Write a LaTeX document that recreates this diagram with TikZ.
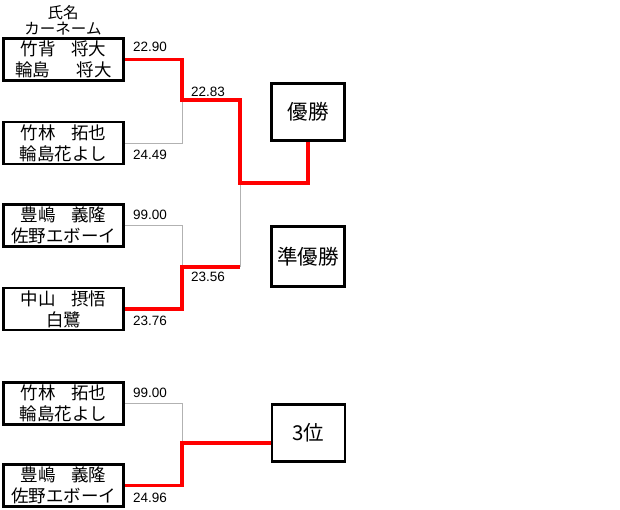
\documentclass[tikz,border=0pt]{standalone}
\usepackage{fontspec}
\setmainfont{Noto Sans CJK JP}
\newfontfamily\numfont{Liberation Sans}
\usepackage{tikz}
\usetikzlibrary{calc}
\tikzset{
  namebox/.style={draw, line width=2.8pt, minimum width=120pt, minimum height=42pt,
    inner sep=0pt, align=center, font=\fontsize{17.5}{21}\selectfont},
  prizebox/.style={draw, line width=2.8pt, minimum width=73pt,
    inner sep=0pt, align=center, font=\fontsize{20.5}{24}\selectfont},
  winline/.style={red, line width=3.2pt},
  loseline/.style={black!30, line width=0.9pt},
  score/.style={anchor=west, inner sep=0pt, font=\numfont\fontsize{13.5}{15}\selectfont}
}

\begin{document}
\begin{tikzpicture}[x=1pt, y=-1pt]
\useasboundingbox (0,0) rectangle (620,509);
\node[font=\fontsize{15.5}{17}\selectfont, align=center] (head) at (63,20) {氏名\\[-1pt]カーネーム};
\node[namebox] (p1) at (63.5,59.5) {竹背\hspace{0.9em}将大\\輪島\hspace{1.5em}将大};
\node[namebox] (p2) at (63.5,143) {竹林\hspace{0.9em}拓也\\輪島花よし};
\node[namebox] (p3) at (63.5,225.5) {豊嶋\hspace{0.9em}義隆\\佐野エボーイ};
\node[namebox] (p4) at (63.5,309) {中山\hspace{0.9em}摂悟\\白鷺};
\node[namebox] (p5) at (63.5,403.5) {竹林\hspace{0.9em}拓也\\輪島花よし};
\node[namebox] (p6) at (63.5,485.5) {豊嶋\hspace{0.9em}義隆\\佐野エボーイ};
\node[prizebox, minimum height=57pt] (champ) at (308,112) {優勝};
\node[prizebox, minimum height=60pt] (second) at (308,256.5) {準優勝};
\node[prizebox, minimum height=57pt] (third) at (308.5,433) {3位};
\coordinate (j1) at (182,100);
\coordinate (j2) at (182,267);
\coordinate (j3) at (182,443);
\coordinate (f) at (240,183);
% losers first, winners on top
\draw[loseline] (p2.east) -| (j1);
\draw[loseline] (p3.east) -| (j2);
\draw[loseline] (f |- j2) -- (f);
\draw[loseline] (p5.east) -| (j3);
\draw[winline] (p1.east) -| (j1) -- (f |- j1) -- (f) -| (champ.south);
\draw[winline] (p4.east) -| (j2) -- (f |- j2);
\draw[winline] (p6.east) -| (j3) -- (j3 -| third.west);
% times
\node[score] (s1) at (133,47) {22.90};
\node[score] (s2) at (133,155) {24.49};
\node[score] (s3) at (191,92) {22.83};
\node[score] (s4) at (133,215) {99.00};
\node[score] (s5) at (191,277) {23.56};
\node[score] (s6) at (133,321) {23.76};
\node[score] (s7) at (133,393) {99.00};
\node[score] (s8) at (133,498) {24.96};
\end{tikzpicture}
\end{document}
